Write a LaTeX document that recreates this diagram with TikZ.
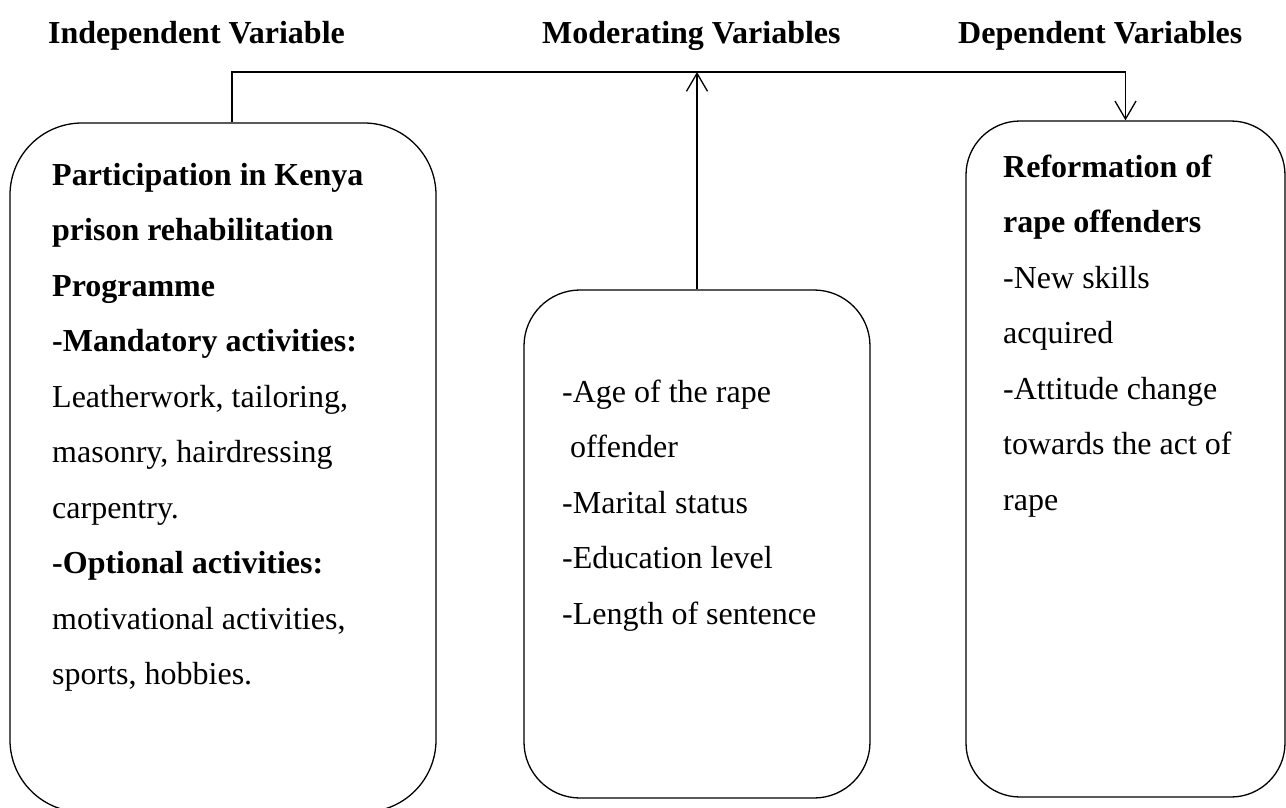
\documentclass[tikz,border=0pt]{standalone}
\usepackage{fontspec}
\setmainfont{Liberation Serif}
\usetikzlibrary{arrows.meta}
\tikzset{
 roundbox/.style={draw, line width=1.3pt, rounded corners=#1, inner sep=0pt},
 txt/.style={anchor=north west, inner sep=0pt, align=left, font=\fontsize{32}{55.5}\selectfont},
 ttl/.style={anchor=base west, inner sep=0pt, font=\fontsize{32}{38}\selectfont\bfseries},
 conn/.style={line width=1.3pt},
 arr/.style={conn, -{Straight Barb[length=18pt,width=21pt,line width=1.3pt]}}
}
\begin{document}
\begin{tikzpicture}[x=1pt,y=-1pt]
\useasboundingbox (0,0) rectangle (1286,807);
% titles
\node[ttl] (t1) at (48,43) {Independent Variable};
\node[ttl] (t2) at (542,43) {Moderating Variables};
\node[ttl] (t3) at (958,43) {Dependent Variables};
% boxes
\node[roundbox=72pt, minimum width=426pt, minimum height=689pt] (lbox) at (223,467.5) {};
\node[roundbox=56pt, minimum width=346pt, minimum height=508pt] (mbox) at (697,544) {};
\node[roundbox=54pt, minimum width=319pt, minimum height=676pt] (rbox) at (1125.5,459) {};
% texts
\node[txt] (ltext) at (52,161) {\rule{0pt}{24pt}\textbf{Participation in Kenya}\\
\textbf{prison rehabilitation}\\
\textbf{Programme}\\
\textbf{-Mandatory activities:}\\
Leatherwork, tailoring,\\
masonry, hairdressing\\
carpentry.\\
\textbf{-Optional activities:}\\
motivational activities,\\
sports, hobbies.};
\node[txt] (mtext) at (562,378) {\rule{0pt}{24pt}-Age of the rape\\
\ offender\\
-Marital status\\
-Education level\\
-Length of sentence};
\node[txt] (rtext) at (1003,153) {\rule{0pt}{24pt}\textbf{Reformation of}\\
\textbf{rape offenders}\\
-New skills\\
acquired\\
-Attitude change\\
towards the act of\\
rape};
% connectors
\coordinate (topbar) at (0,72);
\draw[arr] ([xshift=9pt]lbox.north) |- (topbar -| rbox.north) -- (rbox.north);
\draw[arr] (mbox.north) -- (mbox.north |- topbar);
\end{tikzpicture}
\end{document}
